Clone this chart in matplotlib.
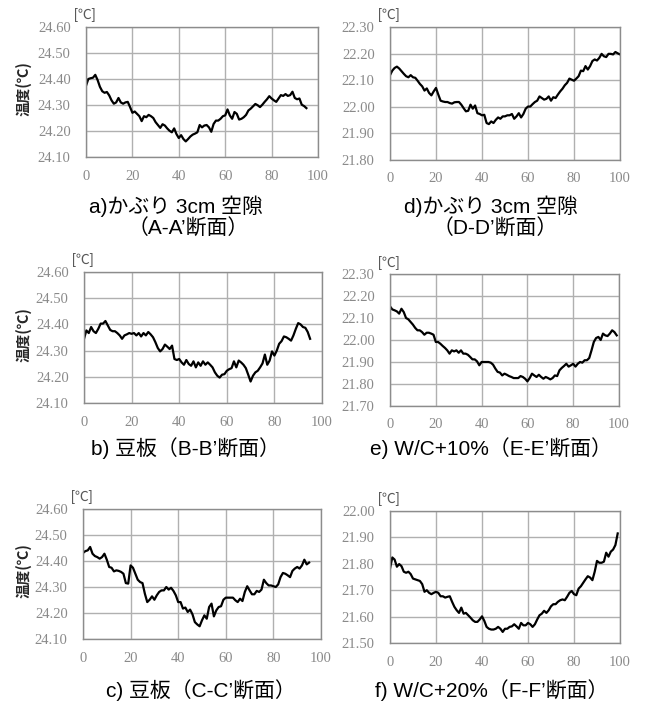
import numpy as np
import matplotlib
matplotlib.use("Agg")
import matplotlib.pyplot as plt

# ---------------- data ----------------
temp_a = [24.374, 24.400, 24.403, 24.405, 24.416, 24.396, 24.370, 24.353, 24.347, 24.350,
          24.337, 24.318, 24.305, 24.310, 24.327, 24.310, 24.305, 24.310, 24.312, 24.292,
          24.270, 24.275, 24.266, 24.257, 24.238, 24.257, 24.253, 24.262, 24.257, 24.250,
          24.234, 24.223, 24.212, 24.226, 24.221, 24.210, 24.201, 24.195, 24.210, 24.188,
          24.173, 24.184, 24.169, 24.160, 24.169, 24.179, 24.186, 24.190, 24.195, 24.223,
          24.214, 24.221, 24.223, 24.214, 24.197, 24.227, 24.240, 24.240, 24.247, 24.257,
          24.260, 24.283, 24.260, 24.247, 24.273, 24.266, 24.244, 24.247, 24.253, 24.262,
          24.279, 24.286, 24.295, 24.304, 24.299, 24.292, 24.301, 24.312, 24.322, 24.334,
          24.325, 24.318, 24.312, 24.325, 24.338, 24.335, 24.342, 24.335, 24.338, 24.351,
          24.327, 24.322, 24.325, 24.301, 24.296, 24.288]

temp_b = [24.345, 24.377, 24.367, 24.390, 24.374, 24.367, 24.383, 24.403, 24.403, 24.413,
          24.396, 24.379, 24.374, 24.374, 24.367, 24.358, 24.345, 24.358, 24.362, 24.367,
          24.364, 24.367, 24.358, 24.367, 24.354, 24.367, 24.358, 24.371, 24.362, 24.351,
          24.332, 24.310, 24.297, 24.306, 24.323, 24.315, 24.306, 24.319, 24.268, 24.264,
          24.268, 24.255, 24.246, 24.264, 24.249, 24.242, 24.259, 24.236, 24.255, 24.242,
          24.259, 24.246, 24.255, 24.246, 24.236, 24.217, 24.204, 24.197, 24.208, 24.210,
          24.223, 24.229, 24.233, 24.259, 24.236, 24.262, 24.255, 24.246, 24.233, 24.208,
          24.182, 24.204, 24.217, 24.223, 24.236, 24.251, 24.285, 24.246, 24.262, 24.297,
          24.281, 24.300, 24.326, 24.336, 24.354, 24.351, 24.345, 24.338, 24.358, 24.383,
          24.405, 24.400, 24.390, 24.387, 24.371, 24.345]

temp_c = [24.431, 24.438, 24.441, 24.454, 24.428, 24.419, 24.415, 24.409, 24.415, 24.428,
          24.405, 24.377, 24.374, 24.360, 24.364, 24.362, 24.358, 24.351, 24.315, 24.313,
          24.383, 24.374, 24.351, 24.328, 24.319, 24.315, 24.274, 24.242, 24.251, 24.264,
          24.251, 24.268, 24.281, 24.287, 24.287, 24.300, 24.290, 24.297, 24.285, 24.268,
          24.242, 24.242, 24.217, 24.221, 24.204, 24.213, 24.195, 24.165, 24.156, 24.149,
          24.172, 24.191, 24.178, 24.223, 24.236, 24.187, 24.210, 24.223, 24.226, 24.251,
          24.259, 24.259, 24.259, 24.259, 24.249, 24.242, 24.255, 24.246, 24.281, 24.303,
          24.287, 24.272, 24.272, 24.285, 24.281, 24.290, 24.328, 24.315, 24.306, 24.306,
          24.303, 24.300, 24.310, 24.338, 24.354, 24.351, 24.345, 24.338, 24.362, 24.371,
          24.377, 24.371, 24.383, 24.405, 24.387, 24.394]

temp_d = [22.119, 22.136, 22.146, 22.151, 22.144, 22.134, 22.124, 22.115, 22.111, 22.119,
          22.111, 22.109, 22.098, 22.086, 22.077, 22.061, 22.069, 22.052, 22.043, 22.058,
          22.071, 22.046, 22.023, 22.020, 22.018, 22.018, 22.014, 22.012, 22.017, 22.018,
          22.018, 22.008, 21.995, 21.983, 21.985, 22.008, 21.993, 22.005, 21.976, 21.973,
          21.968, 21.970, 21.939, 21.935, 21.945, 21.939, 21.951, 21.960, 21.955, 21.964,
          21.964, 21.968, 21.968, 21.973, 21.955, 21.964, 21.976, 21.960, 21.973, 21.993,
          22.001, 22.001, 22.010, 22.018, 22.023, 22.039, 22.033, 22.027, 22.030, 22.039,
          22.023, 22.036, 22.033, 22.046, 22.058, 22.068, 22.081, 22.090, 22.106, 22.102,
          22.098, 22.106, 22.115, 22.136, 22.134, 22.153, 22.140, 22.153, 22.172, 22.178,
          22.174, 22.184, 22.199, 22.190, 22.187, 22.199, 22.199, 22.197, 22.206, 22.201,
          22.197]

temp_e = [22.153, 22.139, 22.135, 22.130, 22.120, 22.142, 22.127, 22.100, 22.094, 22.082,
          22.070, 22.055, 22.044, 22.044, 22.036, 22.024, 22.033, 22.033, 22.029, 22.024,
          21.991, 21.991, 21.983, 21.973, 21.964, 21.953, 21.938, 21.953, 21.948, 21.953,
          21.942, 21.953, 21.938, 21.938, 21.933, 21.923, 21.912, 21.912, 21.903, 21.885,
          21.900, 21.900, 21.900, 21.900, 21.897, 21.888, 21.870, 21.855, 21.852, 21.839,
          21.847, 21.842, 21.836, 21.832, 21.827, 21.827, 21.827, 21.836, 21.832, 21.824,
          21.812, 21.827, 21.847, 21.839, 21.832, 21.842, 21.832, 21.824, 21.832, 21.827,
          21.821, 21.827, 21.839, 21.836, 21.862, 21.873, 21.882, 21.892, 21.879, 21.885,
          21.892, 21.879, 21.892, 21.900, 21.897, 21.908, 21.908, 21.918, 21.953, 21.991,
          22.009, 22.014, 22.000, 22.029, 22.021, 22.018, 22.029, 22.044, 22.036, 22.021]

temp_f = [21.782, 21.824, 21.816, 21.789, 21.799, 21.791, 21.770, 21.766, 21.770, 21.761,
          21.744, 21.741, 21.738, 21.735, 21.723, 21.694, 21.700, 21.690, 21.685, 21.690,
          21.694, 21.690, 21.677, 21.677, 21.672, 21.675, 21.677, 21.656, 21.637, 21.624,
          21.614, 21.634, 21.611, 21.614, 21.605, 21.596, 21.586, 21.580, 21.580, 21.589,
          21.601, 21.584, 21.561, 21.554, 21.551, 21.551, 21.554, 21.561, 21.554, 21.542,
          21.554, 21.554, 21.561, 21.563, 21.571, 21.563, 21.554, 21.576, 21.567, 21.567,
          21.576, 21.571, 21.561, 21.571, 21.589, 21.605, 21.611, 21.622, 21.614, 21.624,
          21.639, 21.647, 21.647, 21.656, 21.662, 21.665, 21.662, 21.675, 21.690, 21.697,
          21.685, 21.681, 21.706, 21.715, 21.728, 21.741, 21.753, 21.748, 21.738, 21.770,
          21.811, 21.804, 21.804, 21.808, 21.842, 21.827, 21.846, 21.854, 21.871, 21.915]

series = [temp_a, temp_b, temp_c, temp_d, temp_e, temp_f]
ylims = [(24.10, 24.60), (24.10, 24.60), (24.10, 24.60),
         (21.80, 22.30), (21.70, 22.30), (21.50, 22.00)]
title_lines = [["a)かぶり 3cm 空隙", "（A-A’断面）"],
               ["b) 豆板（B-B’断面）"],
               ["c) 豆板（C-C’断面）"],
               ["d)かぶり 3cm 空隙", "（D-D’断面）"],
               ["e) W/C+10%（E-E’断面）"],
               ["f) W/C+20%（F-F’断面）"]]
xticks = [0, 20, 40, 60, 80, 100]
ylabel = "温度(℃)"
unit = "[℃]"

# ---------------- layout (pixel boxes: left, top, right, bottom) ----------------
W, H = 647, 702
boxes = [(86, 27, 318, 157), (84, 272, 322, 403), (83, 509, 321, 639),
         (390, 27, 620, 160), (390, 274, 619, 406), (390, 511, 620, 643)]
# title anchors (x center, y center of line) in pixels
title_pos = [[(176, 206), (188, 229)], [(185, 448)], [(201, 690)],
             [(491, 206), (495, 229)], [(491, 448)], [(492, 690)]]

GRAY_TXT = "#8a8a8a"
GRID = "#b0b0b0"
SPINE = "#8c8c8c"
latin_cjk = ["Liberation Sans", "Noto Sans CJK JP", "DejaVu Sans"]

fig = plt.figure(figsize=(W / 100, H / 100), dpi=100)
fig.patch.set_facecolor("white")

for i, (vals, yl, box) in enumerate(zip(series, ylims, boxes)):
    L, T, R, B = box
    ax = fig.add_axes([L / W, 1 - B / H, (R - L) / W, (B - T) / H])
    xs = np.arange(len(vals))
    ax.plot(xs, vals, color="black", lw=1.6, solid_joinstyle="round")
    ax.set_xlim(0, 100)
    ax.set_ylim(*yl)
    ax.set_xticks(xticks)
    ax.set_yticks(np.round(np.arange(yl[0], yl[1] + 1e-6, 0.1), 2))
    ax.yaxis.set_major_formatter(matplotlib.ticker.FormatStrFormatter("%.2f"))
    ax.grid(True, color=GRID, lw=1.0)
    ax.set_axisbelow(True)
    for s in ax.spines.values():
        s.set_color(SPINE)
        s.set_linewidth(1.0)
    ax.tick_params(axis="both", length=0, labelsize=10.5, labelcolor=GRAY_TXT)
    ax.tick_params(axis="x", pad=9)
    ax.tick_params(axis="y", pad=11)
    for lab in ax.get_xticklabels() + ax.get_yticklabels():
        lab.set_fontfamily("Liberation Serif")
    # unit label
    fig.text((L - 1.5) / W, 1 - (T - 11.5) / H, unit, fontsize=10, color="#595959",
             family=latin_cjk, ha="center", va="center")
    if i < 3:
        fig.text(23 / W, 1 - ((T + B) / 2 - 3) / H, ylabel, rotation=90, fontsize=10.5,
                 family=["Noto Sans CJK JP"], weight="bold", color="#262626",
                 ha="center", va="center")
    for line, (tx, ty) in zip(title_lines[i], title_pos[i]):
        fig.text(tx / W, 1 - ty / H, line, fontsize=15, family=latin_cjk,
                 ha="center", va="center", color="black")

fig.savefig("out.png", dpi=100, facecolor="white")
